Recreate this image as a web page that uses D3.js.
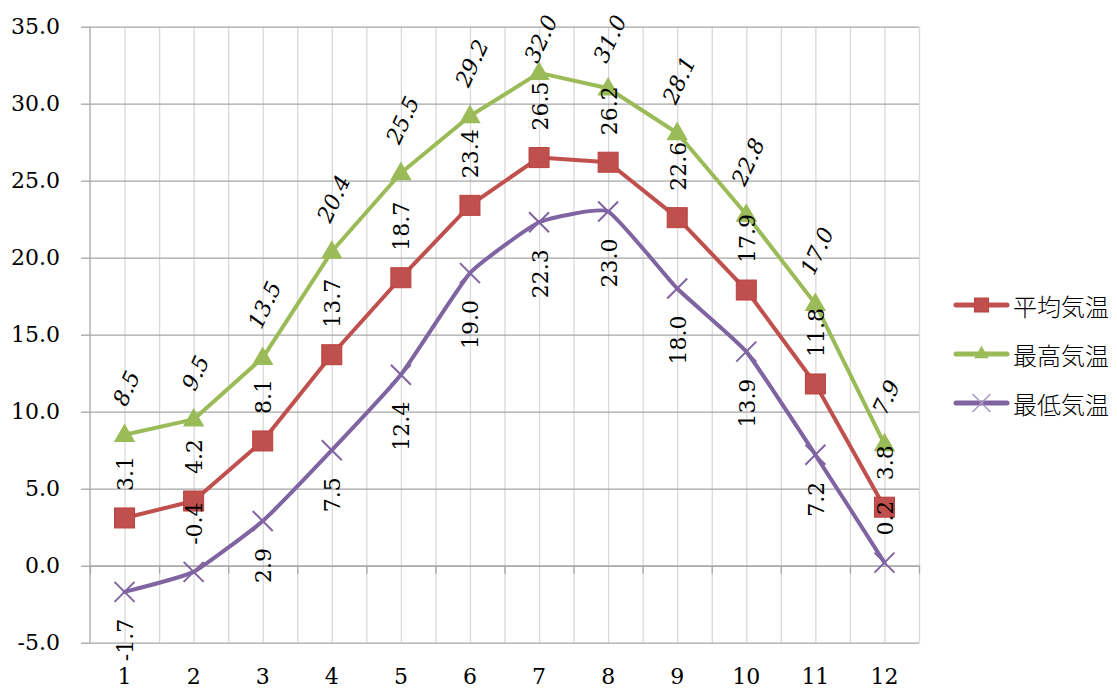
<!DOCTYPE html>
<html><head><meta charset="utf-8">
<script src="https://cdn.jsdelivr.net/npm/d3@7"></script>
<style>
body{margin:0;background:#fff}
svg text{font-family:"DejaVu Serif","Liberation Serif",serif;fill:#000}
</style>
</head><body><svg id="c" width="1117" height="690"></svg>
<script>
const months = ["1","2","3","4","5","6","7","8","9","10","11","12"];
const avgTemp = [3.1, 4.2, 8.1, 13.7, 18.7, 23.4, 26.5, 26.2, 22.6, 17.9, 11.8, 3.8];
const maxTemp = [8.5, 9.5, 13.5, 20.4, 25.5, 29.2, 32.0, 31.0, 28.1, 22.8, 17.0, 7.9];
const minTemp = [-1.7, -0.4, 2.9, 7.5, 12.4, 19.0, 22.3, 23.0, 18.0, 13.9, 7.2, 0.2];
const yTicks = [-5, 0, 5, 10, 15, 20, 25, 30, 35];
const seriesNames = ["平均気温", "最高気温", "最低気温"];

(function(){
const FONT = "'DejaVu Serif', serif", FS = "22px";
const pL = 90, pR = 919, pT = 26.7, pB = 642.7;
const svg = d3.select("#c");
const x = d3.scaleBand().domain(months).range([pL, pR]);
const cx = m => x(m) + x.bandwidth() / 2;
const y = d3.scaleLinear().domain([-5, 35]).range([pB, pT]);
const fmt = d => d.toFixed(1);

// vertical gridlines (category boundaries and centres)
const xs = d3.scaleLinear().domain([0, 24]).range([pL, pR]);
svg.append("g").attr("transform", `translate(0,${pB})`)
  .call(d3.axisBottom(xs).tickValues(d3.range(1, 25)).tickSize(-(pB - pT)).tickFormat(""))
  .call(g => g.select(".domain").remove())
  .call(g => g.selectAll("line").attr("stroke", "#d9d9d9").attr("stroke-width", 1.3));

// horizontal gridlines
svg.append("g").attr("transform", `translate(${pL},0)`)
  .call(d3.axisLeft(y).tickValues(yTicks).tickSize(-(pR - pL)).tickFormat(""))
  .call(g => g.select(".domain").remove())
  .call(g => g.selectAll("line").attr("stroke", "#a6a6a6").attr("stroke-width", 1.3));

// y axis with labels
svg.append("g").attr("transform", `translate(${pL},0)`)
  .call(d3.axisLeft(y).tickValues(yTicks).tickSize(9).tickPadding(21).tickFormat(fmt))
  .call(g => g.select(".domain").attr("stroke", "#a6a6a6").attr("stroke-width", 1.3).attr("d", `M0,${pT}V${pB}`))
  .call(g => g.selectAll("line").attr("stroke", "#a6a6a6").attr("stroke-width", 1.3))
  .call(g => g.selectAll("text").style("font-size", FS).style("font-family", FONT));

// x axis line at zero with boundary ticks
const xb = d3.scaleLinear().domain([0, 12]).range([pL, pR]);
svg.append("g").attr("transform", `translate(0,${y(0)})`)
  .call(d3.axisBottom(xb).tickValues(d3.range(0, 13)).tickSize(8).tickFormat("").tickSizeOuter(0))
  .call(g => g.select(".domain").attr("stroke", "#a6a6a6").attr("stroke-width", 1.3))
  .call(g => g.selectAll("line").attr("stroke", "#a6a6a6").attr("stroke-width", 1.3));

// category labels at bottom
svg.append("g").attr("transform", `translate(0,${pB})`)
  .call(d3.axisBottom(x).tickSize(0).tickPadding(26))
  .call(g => g.select(".domain").remove())
  .call(g => g.selectAll("text").style("font-size", FS).style("font-family", FONT));

const series = [
  {name: seriesNames[0], values: avgTemp, color: "#c0504d", marker: "square", curve: d3.curveLinear},
  {name: seriesNames[1], values: maxTemp, color: "#9bbb59", marker: "triangle", curve: d3.curveLinear},
  {name: seriesNames[2], values: minTemp, color: "#8064a2", marker: "x", curve: d3.curveCardinal.tension(0.6)}
];

function drawMarker(g, type, color, big) {
  if (type === "square") {
    const s = big ? 20 : 14;
    g.append("rect").attr("x", -s/2).attr("y", -s/2).attr("width", s).attr("height", s)
      .attr("fill", color).attr("stroke", "#b9413e").attr("stroke-width", 1);
  } else if (type === "triangle") {
    g.append("path").attr("d", d3.symbol(d3.symbolTriangle, big ? 200 : 90)()).attr("fill", color)
      .attr("transform", `translate(0,${big ? 1 : 0})`);
  } else {
    const r = big ? 10 : 9;
    g.append("path").attr("d", `M${-r},${-r}L${r},${r}M${-r},${r}L${r},${-r}`)
      .attr("stroke", big ? color : "#a896c4").attr("stroke-width", big ? 2 : 1.5).attr("fill", "none");
  }
}

const lines = svg.append("g");
const markers = svg.append("g");
series.forEach(s => {
  const line = d3.line().x((d, i) => cx(months[i])).y(d => y(d)).curve(s.curve);
  lines.append("path").attr("d", line(s.values)).attr("fill", "none")
    .attr("stroke", s.color).attr("stroke-width", 4).attr("stroke-linejoin", "round").attr("stroke-linecap", "round");
});
series.forEach(s => {
  s.values.forEach((v, i) => {
    const g = markers.append("g").attr("transform", `translate(${cx(months[i])},${y(v)})`);
    drawMarker(g, s.marker, s.color, true);
  });
});

// data labels
const labels = svg.append("g");
const gap = 27, hText = 17, minTop = 13;
const purpleAbove = new Set([1, 11]);
series.forEach((s, si) => {
  const angle = si === 1 ? -65 : -90;
  s.values.forEach((v, i) => {
    const px = cx(months[i]), py = y(v);
    const g = labels.append("g");
    const t = g.append("text").text(fmt(v)).attr("text-anchor", "middle")
      .attr("dominant-baseline", "central").style("font-size", FS).style("font-family", FONT)
      .style("font-style", si === 1 ? "italic" : "normal");
    const L = t.node().getComputedTextLength();
    const a = Math.abs(angle) * Math.PI / 180;
    const half = (L * Math.sin(a) + hText * Math.cos(a)) / 2;
    const above = si !== 2 || purpleAbove.has(i);
    let yc = above ? py - gap - half : py + gap + half;
    if (yc - half < minTop) yc = minTop + half;
    g.attr("transform", `translate(${px + (si === 1 ? 2 : 1)},${yc}) rotate(${angle})`);
  });
});

// legend
const legend = svg.append("g");
const legY = [305, 354, 403];
series.forEach((s, i) => {
  const g = legend.append("g").attr("transform", `translate(0,${legY[i]})`);
  g.append("line").attr("x1", 956).attr("x2", 1007).attr("stroke", s.color).attr("stroke-width", 5).attr("stroke-linecap", "round");
  const m = g.append("g").attr("transform", "translate(981.5,0)");
  drawMarker(m, s.marker, s.color, false);
  g.append("text").attr("x", 1013).attr("dominant-baseline", "central").text(s.name)
    .style("font-family", "'Noto Sans CJK JP'").style("font-size", "24px").style("font-weight", "300");
});
})();
</script>
</body></html>
